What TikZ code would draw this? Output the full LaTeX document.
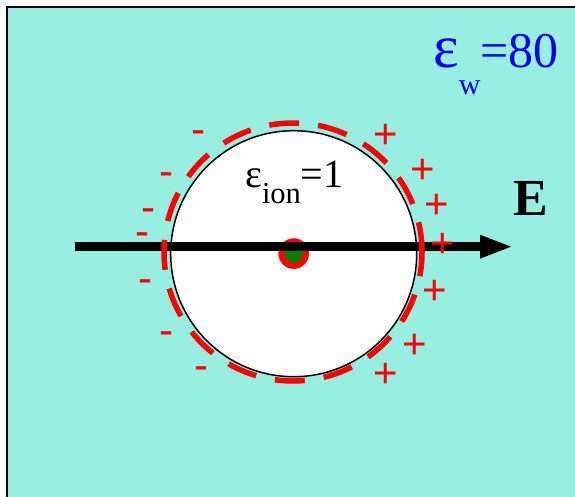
\documentclass[tikz,border=0pt]{standalone}
\usepackage{fontspec}
\setmainfont{Liberation Serif}
\newfontfamily\signfont{Liberation Sans}
\usetikzlibrary{arrows.meta}
\definecolor{waterbg}{RGB}{153,238,226}
\definecolor{chargered}{RGB}{255,0,0}
\definecolor{epsblue}{RGB}{0,0,235}
\definecolor{coregreen}{RGB}{0,130,0}
\newcommand{\minusglyph}{\raisebox{-0.265em}[0.05em][0.05em]{-}}
\newcommand{\plusglyph}{\raisebox{-0.353em}[0.24em][0.24em]{+}}
\begin{document}
\begin{tikzpicture}[x=1pt,y=-1pt,
  chargesign/.style={font=\signfont\fontsize{42}{42}\selectfont, text=chargered, inner sep=0pt, anchor=center},
  sphere/.style={circle, draw=black, line width=1.5pt, fill=white, minimum size=246pt, inner sep=0pt},
  ring/.style={draw=chargered, line width=5.5pt, dash pattern=on 30pt off 19.15pt},
  fieldaxis/.style={line width=8.5pt, -{Triangle[length=31pt,width=24pt,line width=0pt]}},
  label/.style={inner sep=0pt, anchor=base west}]
\useasboundingbox (0,0) rectangle (575,497);
\fill[white] (-5,-5) rectangle (580,502);
\fill[waterbg] (7,7) rectangle (582,504);
\draw[line width=2.5pt] (7,504) -- (7,7) -- (582,7);
% ion sphere
\node[sphere] (ion) at (293.7,253.7) {};
\node[circle, fill=chargered, minimum size=30.6pt, inner sep=0pt] (shell) at (293.7,253.6) {};
\node[circle, fill=coregreen, minimum size=18pt, inner sep=0pt] (core) at (shell.center) {};
% field axis
\coordinate (axstart) at (75,246.7);
\coordinate (axend) at (511,246.7);
\draw[fieldaxis] (axstart) -- (axend);
% induced charge ring
\coordinate (ringc) at (293,252);
\draw[ring] (ringc) ++(129,0) arc[start angle=0, end angle=-360, radius=129];
% negative charges
\node[chargesign] (m1) at (198.3,132) {\minusglyph};
\node[chargesign] (m2) at (166.7,174) {\minusglyph};
\node[chargesign] (m3) at (148.3,210) {\minusglyph};
\node[chargesign] (m4) at (142.3,234) {\minusglyph};
\node[chargesign] (m5) at (145,281) {\minusglyph};
\node[chargesign] (m6) at (166.7,333.5) {\minusglyph};
\node[chargesign] (m7) at (201,368.3) {\minusglyph};
% positive charges
\node[chargesign] (p1) at (385.5,133.5) {\plusglyph};
\node[chargesign] (p2) at (423,169) {\plusglyph};
\node[chargesign] (p3) at (436.5,204) {\plusglyph};
\node[chargesign] (p4) at (443,242.5) {\plusglyph};
\node[chargesign] (p5) at (435,290) {\plusglyph};
\node[chargesign] (p6) at (415,343.3) {\plusglyph};
\node[chargesign] (p7) at (386,372.5) {\plusglyph};
% labels
\node[label] (epsion) at (245,187) {\fontsize{40}{40}\selectfont ε\raisebox{-16pt}{\fontsize{30.5}{30.5}\selectfont ion}=1};
\node[label, text=epsblue] (epsw) at (433,68) {{\fontsize{61}{61}\selectfont ε}\raisebox{-27pt}{\fontsize{30}{30}\selectfont w}{\fontsize{50}{50}\selectfont =80}};
\node[label, font=\bfseries\fontsize{52}{52}\selectfont] (field) at (513,215) {E};
\end{tikzpicture}
\end{document}
